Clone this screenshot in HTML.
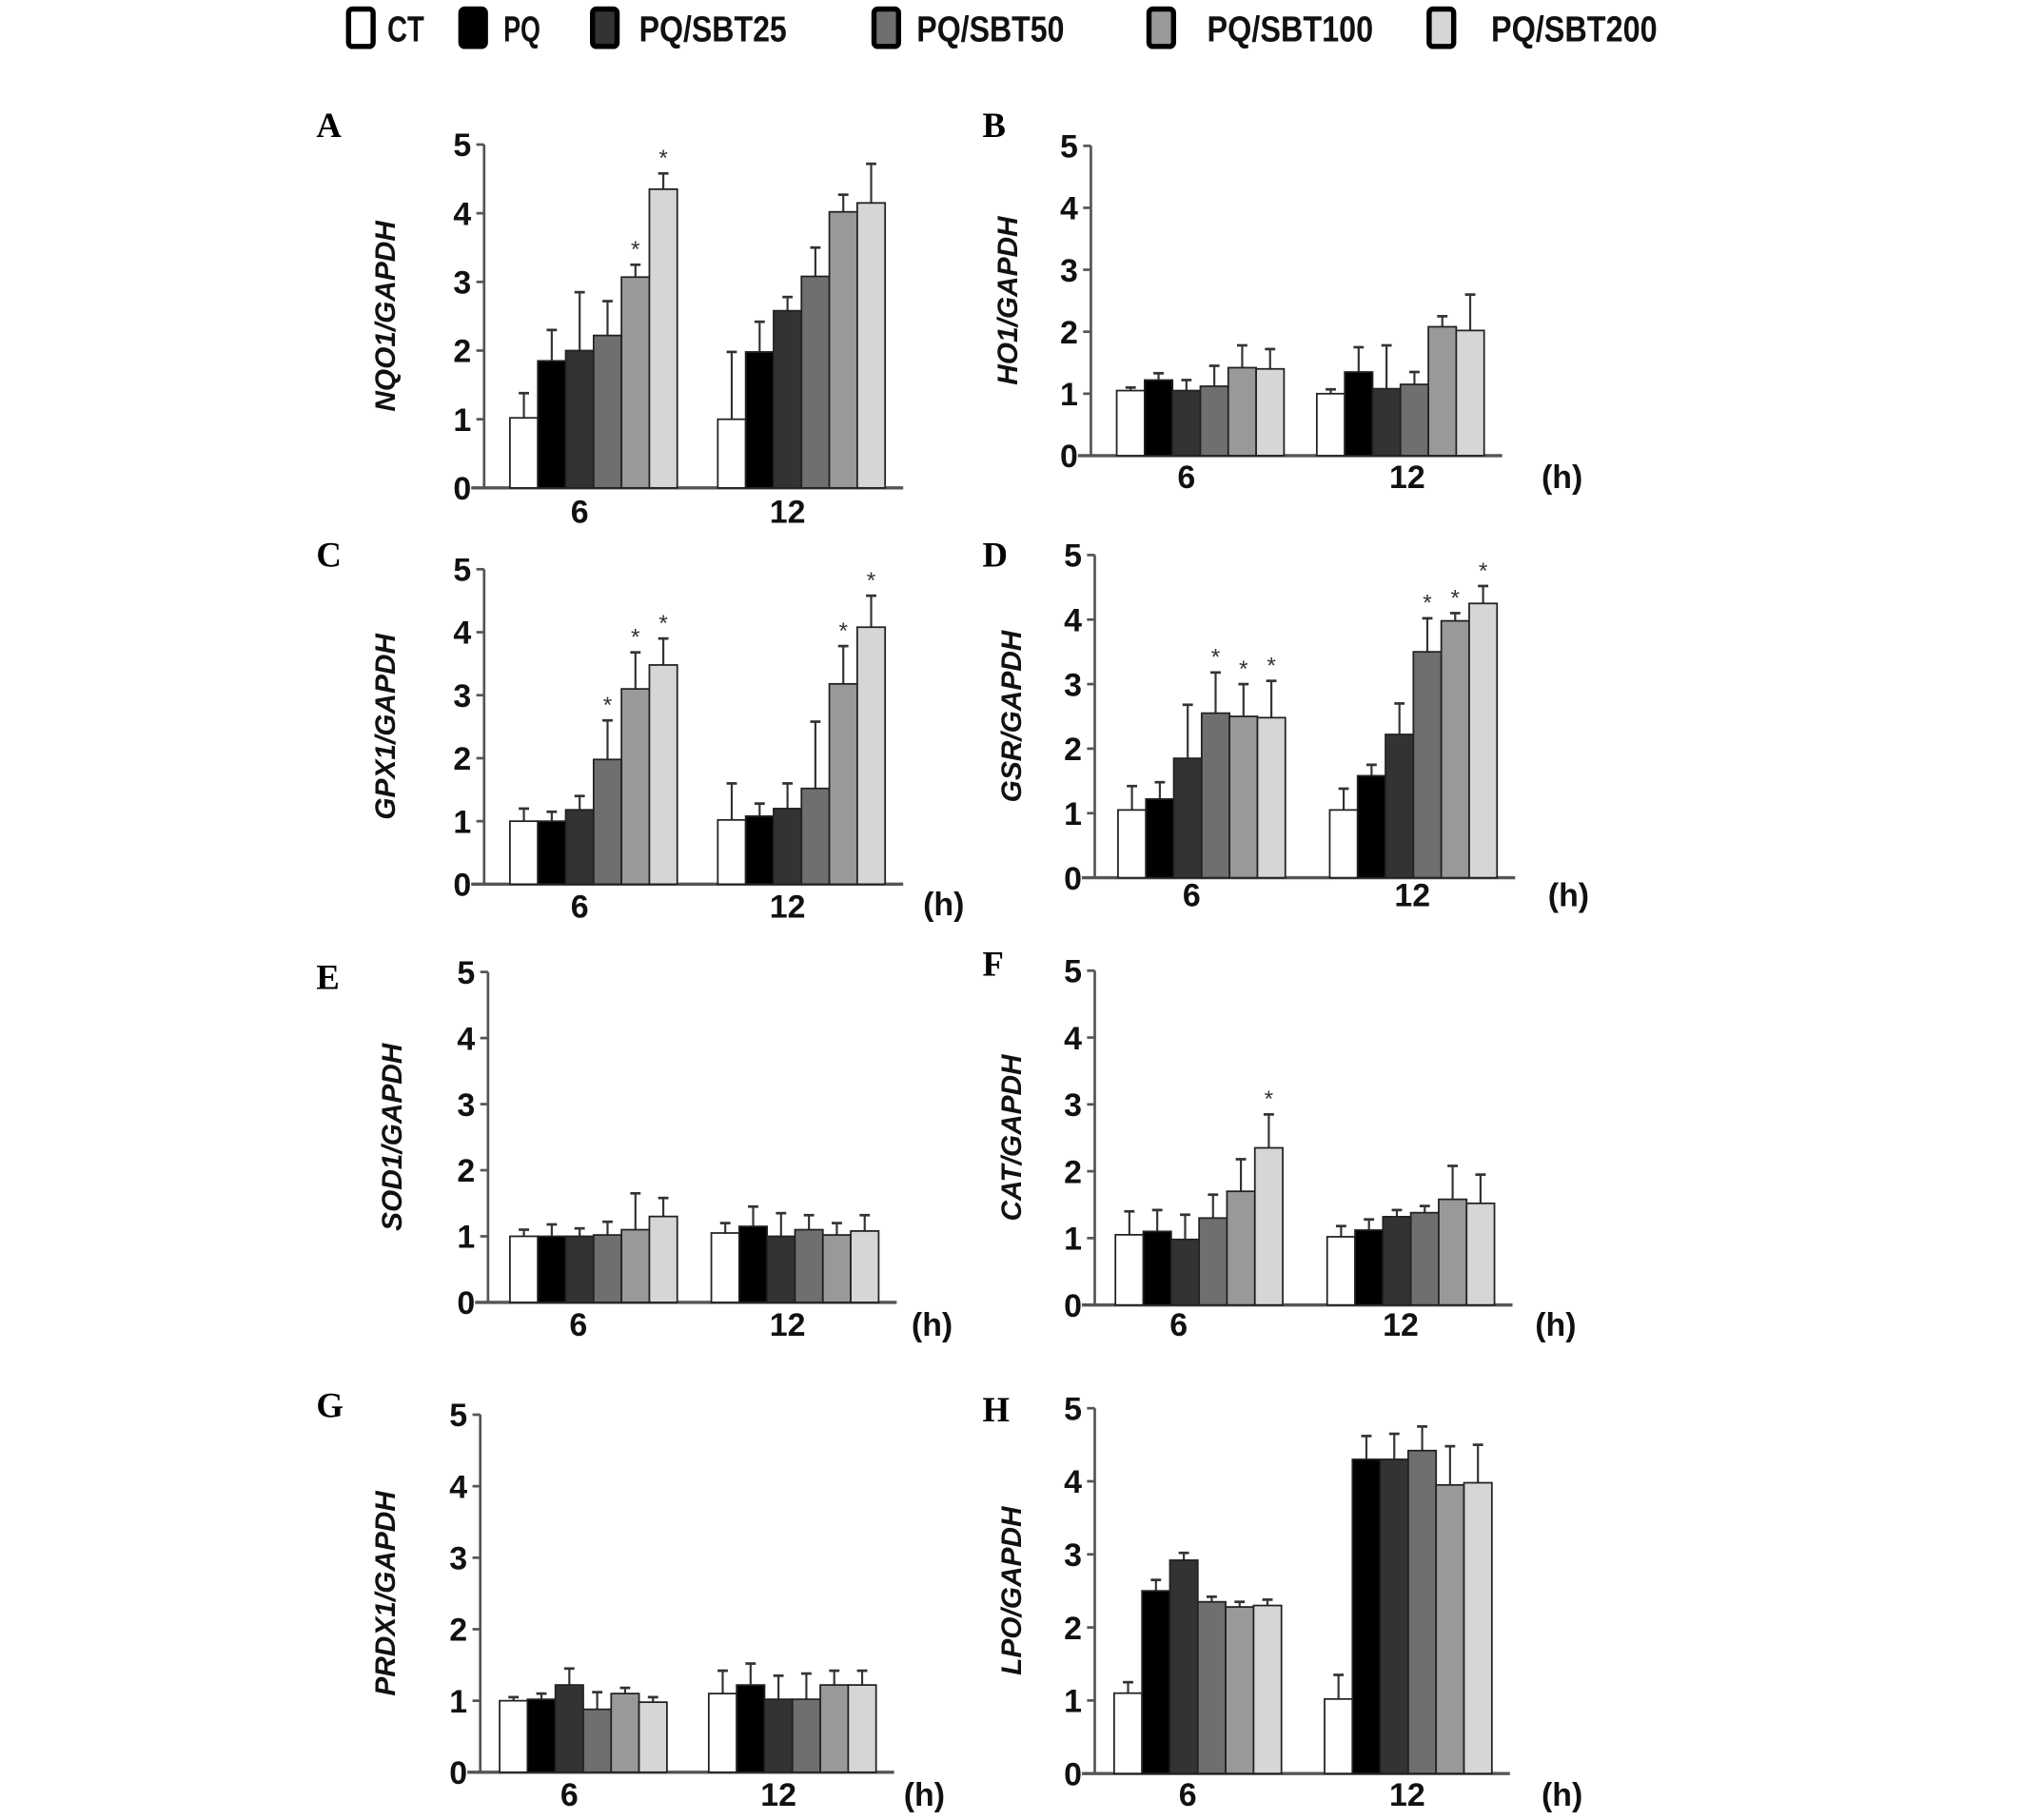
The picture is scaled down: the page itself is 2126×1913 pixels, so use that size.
<!DOCTYPE html>
<html><head><meta charset="utf-8"><style>
html,body{margin:0;padding:0;background:#fff;}
svg{display:block;}
text{font-family:"Liberation Sans",Arial,sans-serif;}
text.serif{font-family:"Liberation Serif",serif;}
</style></head><body>
<svg id="fig" width="2126" height="1913" viewBox="0 0 1567 1410" preserveAspectRatio="none" xmlns="http://www.w3.org/2000/svg">
<g id="legend"></g>
<g id="panels"></g>
</svg>
<script>
const seriesNames = ["CT","PQ","PQ/SBT25","PQ/SBT50","PQ/SBT100","PQ/SBT200"];
const groups = ["6","12"];
const yTicks = [0,1,2,3,4,5];
const panelIds = ["A","B","C","D","E","F","G","H"];
const yTitles = ["NQO1/GAPDH","HO1/GAPDH","GPX1/GAPDH","GSR/GAPDH","SOD1/GAPDH","CAT/GAPDH","PRDX1/GAPDH","LPO/GAPDH"];
const valuesA = [[1.02,1.85,2.0,2.22,3.07,4.35],[1.0,1.98,2.58,3.08,4.02,4.15]];
const errorsA = [[1.38,2.3,2.85,2.72,3.25,4.58],[1.98,2.42,2.78,3.5,4.27,4.72]];
const starsA = [[0,0,0,0,1,1],[0,0,0,0,0,0]];
const valuesB = [[1.05,1.22,1.05,1.12,1.42,1.4],[1.0,1.35,1.08,1.15,2.08,2.02]];
const errorsB = [[1.1,1.33,1.22,1.45,1.78,1.72],[1.07,1.75,1.78,1.35,2.25,2.6]];
const starsB = [[0,0,0,0,0,0],[0,0,0,0,0,0]];
const valuesC = [[1.0,1.0,1.18,1.98,3.1,3.48],[1.02,1.08,1.2,1.52,3.18,4.08]];
const errorsC = [[1.2,1.15,1.4,2.6,3.68,3.9],[1.6,1.28,1.6,2.58,3.78,4.58]];
const starsC = [[0,0,0,1,1,1],[0,0,0,0,1,1]];
const valuesD = [[1.05,1.22,1.85,2.55,2.5,2.48],[1.05,1.58,2.22,3.5,3.98,4.25]];
const errorsD = [[1.42,1.48,2.68,3.18,3.0,3.05],[1.38,1.75,2.7,4.02,4.1,4.52]];
const starsD = [[0,0,0,1,1,1],[0,0,0,1,1,1]];
const valuesE = [[1.0,1.0,1.0,1.02,1.1,1.3],[1.05,1.15,1.0,1.1,1.02,1.08]];
const errorsE = [[1.1,1.18,1.12,1.22,1.65,1.58],[1.2,1.45,1.35,1.32,1.2,1.32]];
const starsE = [[0,0,0,0,0,0],[0,0,0,0,0,0]];
const valuesF = [[1.05,1.1,0.98,1.3,1.7,2.35],[1.02,1.12,1.32,1.38,1.58,1.52]];
const errorsF = [[1.4,1.42,1.35,1.65,2.18,2.85],[1.18,1.28,1.42,1.48,2.08,1.95]];
const starsF = [[0,0,0,0,0,1],[0,0,0,0,0,0]];
const valuesG = [[1.0,1.02,1.22,0.88,1.1,0.98],[1.1,1.22,1.02,1.02,1.22,1.22]];
const errorsG = [[1.05,1.1,1.45,1.12,1.18,1.05],[1.42,1.52,1.35,1.38,1.42,1.42]];
const starsG = [[0,0,0,0,0,0],[0,0,0,0,0,0]];
const valuesH = [[1.1,2.5,2.92,2.35,2.28,2.3],[1.02,4.3,4.3,4.42,3.95,3.98]];
const errorsH = [[1.25,2.65,3.02,2.42,2.35,2.38],[1.35,4.62,4.65,4.75,4.48,4.5]];
const starsH = [[0,0,0,0,0,0],[0,0,0,0,0,0]];
const allValues=[valuesA,valuesB,valuesC,valuesD,valuesE,valuesF,valuesG,valuesH];
const allErrors=[errorsA,errorsB,errorsC,errorsD,errorsE,errorsF,errorsG,errorsH];
const allStars=[starsA,starsB,starsC,starsD,starsE,starsF,starsG,starsH];

const fills=["#ffffff","#000000","#333333","#6f6f6f","#999999","#d6d6d6"];
const layout=[
 {ax:375,zero:378,top:112,g:[395,556],gl:[449,610],ly:396,h:false,lx:255,ly2:95,tx:298},
 {ax:845,zero:353,top:113,g:[865,1020],gl:[919,1090],ly:369,h:[1210,369],lx:771,ly2:95,tx:780},
 {ax:375,zero:685,top:441,g:[395,556],gl:[449,610],ly:702,h:[731,700],lx:255,ly2:428,tx:298},
 {ax:848,zero:680,top:430,g:[866,1030],gl:[923,1094],ly:693,h:[1215,693],lx:771,ly2:428,tx:783},
 {ax:378,zero:1009,top:753,g:[395,551],gl:[448,610],ly:1026,h:[722,1026],lx:255,ly2:755,tx:303},
 {ax:848,zero:1011,top:752,g:[864,1028],gl:[913,1085],ly:1026,h:[1205,1026],lx:771,ly2:745,tx:783},
 {ax:372,zero:1373,top:1096,g:[387,549],gl:[441,603],ly:1390,h:[716,1390],lx:255,ly2:1087,tx:298},
 {ax:848,zero:1374,top:1091,g:[863,1026],gl:[920,1090],ly:1390,h:[1210,1390],lx:771,ly2:1090,tx:783}
];
const NS="http://www.w3.org/2000/svg";
function mk(tag,attrs,parent,txt){const e=document.createElementNS(NS,tag);for(const k in attrs)e.setAttribute(k,attrs[k]);if(txt!==undefined)e.textContent=txt;parent.appendChild(e);return e;}

const leg=document.getElementById('legend');
const legBoxX=[268,355,457,675,888,1105];
const legTextX=[300,390,495,710,935,1155];
seriesNames.forEach((n,i)=>{
  const b=mk('rect',{x:legBoxX[i]+2,y:7,width:19,height:29,rx:3,fill:fills[i],stroke:'#000','stroke-width':4},leg);
  
  
  const t=mk('text',{x:legTextX[i],y:32,'font-size':28,'font-weight':'bold',fill:'#111',textLength:(n.length*14.3),lengthAdjust:'spacingAndGlyphs'},leg,n);
  
  
});

const pan=document.getElementById('panels');
const bw=21.6;
layout.forEach((L,p)=>{
  const g=mk('g',{},pan);
  
  
  const unit=(L.zero-L.top)/5;
  const y=v=>L.zero-v*unit;
  const lab=mk('text',{x:L.lx-10,y:L.ly2+11,'font-size':27,'font-weight':'bold',fill:'#000','class':'serif'},g,panelIds[p]);
  
  
  const cy=(L.zero+L.top)/2;
  const yt=mk('text',{x:0,y:0,transform:`translate(${L.tx+8},${cy}) rotate(-90)`,'text-anchor':'middle','font-size':22,'font-weight':'bold','font-style':'italic',fill:'#111'},g,yTitles[p]);
  
  
  const axR=L.g[1]+6*bw+14;
  const xa=mk('line',{x1:L.ax-10,y1:L.zero,x2:axR,y2:L.zero,stroke:'#555','stroke-width':2.5},g);
  
  
  const ya=mk('line',{x1:L.ax,y1:L.top,x2:L.ax,y2:L.zero,stroke:'#555','stroke-width':2},g);
  
  
  yTicks.forEach(t=>{
    mk('line',{x1:L.ax-6,y1:y(t),x2:L.ax,y2:y(t),stroke:'#555','stroke-width':2},g);
    const tl=mk('text',{x:L.ax-10,y:y(t)+9,'text-anchor':'end','font-size':25,'font-weight':'bold',fill:'#111'},g,String(t));
    
    
  });
  groups.forEach((gn,gi)=>{
    const gl=mk('text',{x:L.gl[gi],y:L.ly+9,'text-anchor':'middle','font-size':25,'font-weight':'bold',fill:'#111'},g,gn);
    
    
    allValues[p][gi].forEach((v,si)=>{
      const x0=L.g[gi]+si*bw;
      const e=allErrors[p][gi][si];
      const cx=x0+bw/2;
      mk('line',{x1:cx,y1:y(v),x2:cx,y2:y(e),stroke:'#333','stroke-width':1.6},g);
      mk('line',{x1:cx-4,y1:y(e),x2:cx+4,y2:y(e),stroke:'#333','stroke-width':2},g);
      const r=mk('rect',{x:x0,y:y(v),width:bw,height:L.zero-y(v),fill:fills[si],stroke:'#222','stroke-width':1.3},g);
      
      
      if(allStars[p][gi][si]){
        const s=mk('text',{x:cx,y:y(e)-6,'text-anchor':'middle','font-size':18,fill:'#333'},g,'*');
        
        
      }
    });
  });
  if(L.h){
    const h=mk('text',{x:L.h[0],y:L.h[1]+9,'text-anchor':'middle','font-size':25,'font-weight':'bold',fill:'#111'},g,'(h)');
    
    
  }
});
</script>
</body></html>
